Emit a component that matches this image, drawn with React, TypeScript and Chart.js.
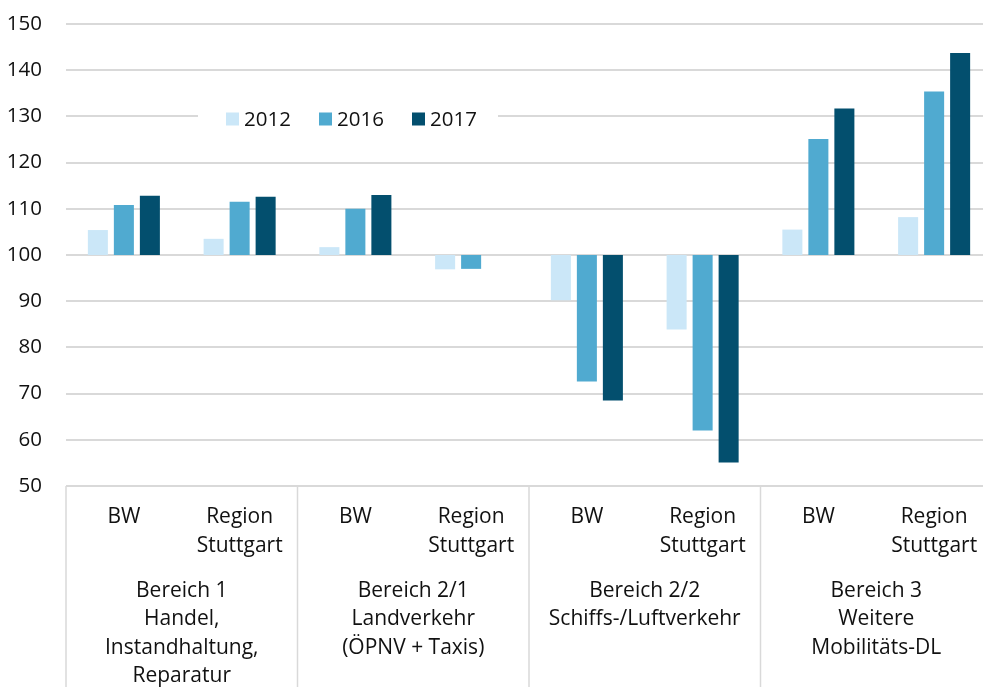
import React, { useEffect, useRef } from "react";
import { Chart, registerables } from "chart.js";

Chart.register(...registerables);

const CATEGORIES: string[][] = [
  ["BW"], ["Region", "Stuttgart"],
  ["BW"], ["Region", "Stuttgart"],
  ["BW"], ["Region", "Stuttgart"],
  ["BW"], ["Region", "Stuttgart"],
];
const GROUPS: string[][] = [
  ["Bereich 1", "Handel,", "Instandhaltung,", "Reparatur"],
  ["Bereich 2/1", "Landverkehr", "(ÖPNV + Taxis)"],
  ["Bereich 2/2", "Schiffs-/Luftverkehr"],
  ["Bereich 3", "Weitere", "Mobilitäts-DL"],
];
const BASE = 100;
const SERIES_NAMES = ["2012", "2016", "2017"];
const V2012: (number | null)[] = [105.4, 103.5, 101.7, 96.9, 90.2, 83.9, 105.5, 108.2];
const V2016: (number | null)[] = [110.8, 111.5, 110.0, 97.0, 72.6, 62.0, 125.1, 135.4];
const V2017: (number | null)[] = [112.8, 112.6, 113.0, null, 68.5, 55.1, 131.7, 143.7];
const Y_MIN = 50;
const Y_MAX = 150;
const Y_STEP = 10;

const COLORS = ["#cbe7f8", "#50aad0", "#034f6e"];
const FONT = "'Open Sans', sans-serif";
const FS = 21;
const TEXT = "#111111";
const GRID = "#d9d9d9";

const toFloat = (arr: (number | null)[]) => arr.map((v) => (v == null ? null : [BASE, v]));

export default function App() {
  const ref = useRef<HTMLCanvasElement | null>(null);
  useEffect(() => {
    if (!ref.current) return;
    const overlay = {
      id: "overlay",
      afterDraw(chart: any) {
        const ctx = chart.ctx;
        const xs = chart.scales.x;
        const area = chart.chartArea;
        const cw = xs.getPixelForValue(1) - xs.getPixelForValue(0);
        ctx.save();
        ctx.strokeStyle = GRID;
        ctx.lineWidth = 1.5;
        for (let g = 0; g <= GROUPS.length; g++) {
          const x = xs.getPixelForValue(g * 2) - cw / 2;
          ctx.beginPath();
          ctx.moveTo(x, area.bottom);
          ctx.lineTo(x, chart.height);
          ctx.stroke();
        }
        ctx.fillStyle = TEXT;
        ctx.font = `${FS}px ${FONT}`;
        ctx.textAlign = "center";
        ctx.textBaseline = "middle";
        GROUPS.forEach((lines, g) => {
          const x = (xs.getPixelForValue(g * 2) + xs.getPixelForValue(g * 2 + 1)) / 2;
          lines.forEach((t, k) => ctx.fillText(t, x, 591 + k * 28.5));
        });
        const ly = 119;
        ctx.fillStyle = "#ffffff";
        ctx.fillRect(198, ly - 12, 300, 24);
        const lx = [226, 319, 412];
        ctx.font = `20.5px ${FONT}`;
        SERIES_NAMES.forEach((n, i) => {
          ctx.fillStyle = COLORS[i];
          ctx.fillRect(lx[i], ly - 6.5, 13, 13);
          ctx.fillStyle = TEXT;
          ctx.textAlign = "left";
          ctx.fillText(n, lx[i] + 18, ly + 1);
        });
        ctx.restore();
      },
    };
    const chart = new Chart(ref.current, {
      type: "bar",
      data: {
        labels: CATEGORIES,
        datasets: [V2012, V2016, V2017].map((d, i) => ({
          label: SERIES_NAMES[i],
          data: toFloat(d) as any,
          backgroundColor: COLORS[i],
          borderWidth: 0,
          categoryPercentage: 0.674,
          barPercentage: 0.77,
        })),
      },
      options: {
        responsive: false,
        animation: false,
        devicePixelRatio: 1,
        layout: { padding: { top: 24, left: 0, right: 0, bottom: 0 } },
        plugins: { legend: { display: false }, tooltip: { enabled: false } },
        scales: {
          x: {
            grid: { display: false, drawTicks: false },
            border: { display: false },
            ticks: {
              color: TEXT,
              font: { family: FONT, size: FS, lineHeight: 28.5 / FS },
              padding: 17,
              maxRotation: 0,
              autoSkip: false,
            },
            afterFit: (s: any) => { s.height = 214; s.paddingLeft = 0; s.paddingRight = 0; },
          },
          y: {
            min: Y_MIN,
            max: Y_MAX,
            grid: { color: GRID, lineWidth: 2, drawTicks: false },
            border: { display: false },
            ticks: {
              stepSize: Y_STEP,
              color: TEXT,
              padding: 24,
              font: { family: FONT, size: 20.5 },
            },
            afterFit: (s: any) => { s.width = 66; s.paddingTop = 0; s.paddingBottom = 0; },
          },
        },
      },
      plugins: [overlay],
    });
    return () => chart.destroy();
  }, []);
  return (
    <div style={{ position: "fixed", left: 0, top: 0, width: 983, height: 687, overflow: "hidden", background: "#fff" }}>
      <canvas ref={ref} width={992} height={700} style={{ display: "block" }} />
    </div>
  );
}
